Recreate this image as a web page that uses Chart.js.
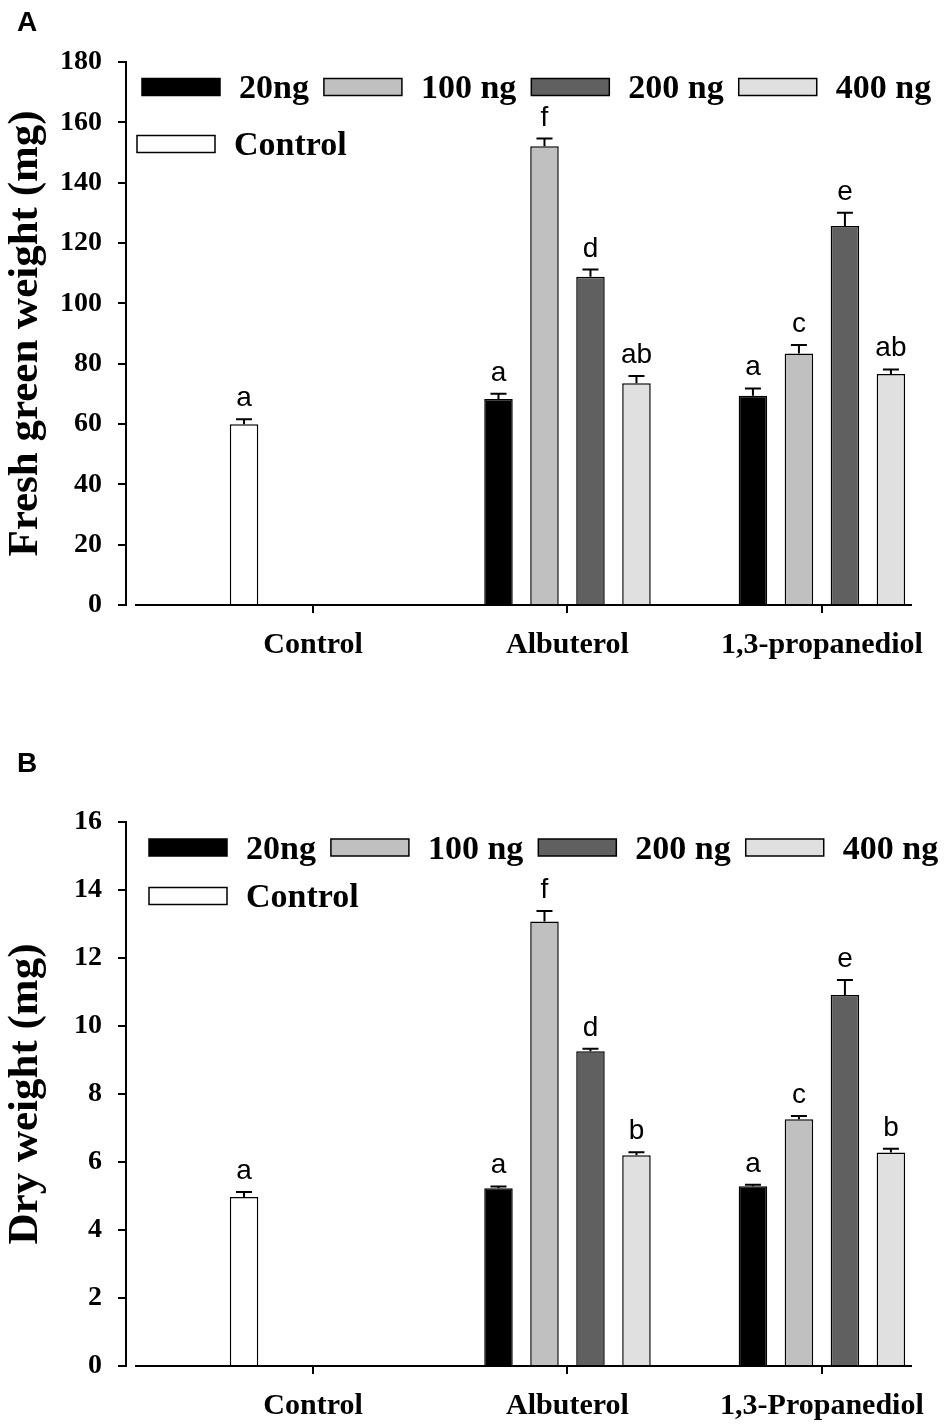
<!DOCTYPE html>
<html>
<head>
<meta charset="utf-8">
<script src="https://cdn.jsdelivr.net/npm/chart.js@4.4.1/dist/chart.umd.min.js"></script>
<style>
  html, body { margin: 0; padding: 0; background: #fff; }
  #wrap { position: relative; width: 950px; height: 1426px; }
  .panel { position: absolute; left: 0; width: 950px; height: 713px; }
  .tag { position: absolute; left: 17px; font: bold 28px 'Liberation Sans', Arial, sans-serif; line-height: 1; color: #000; }
</style>
</head>
<body>
<div id="wrap">
  <div class="panel" style="top:0"><canvas id="chartA"></canvas></div>
  <div class="panel" style="top:713px"><canvas id="chartB"></canvas></div>
  <div class="tag" style="top:8px">A</div>
  <div class="tag" style="top:749px">B</div>
</div>
<script>
// groups on the x axis
const groupsA = ['Control', 'Albuterol', '1,3-propanediol'];
const groupsB = ['Control', 'Albuterol', '1,3-Propanediol'];
const doses = ['20ng', '100 ng', '200 ng', '400 ng', 'Control'];

// A: fresh green weight (mg), one value per group
const fresh20 = [null, 68.3, 69.4];
const fresh100 = [null, 152.1, 83.4];
const fresh200 = [null, 108.8, 125.6];
const fresh400 = [null, 73.5, 76.6];
const freshCtrl = [59.9, null, null];
const freshErr20 = [null, 1.7, 2.4];
const freshErr100 = [null, 2.5, 2.8];
const freshErr200 = [null, 2.4, 4.4];
const freshErr400 = [null, 2.4, 1.5];
const freshErrCtrl = [1.7, null, null];
const freshSig20 = [null, 'a', 'a'];
const freshSig100 = [null, 'f', 'c'];
const freshSig200 = [null, 'd', 'e'];
const freshSig400 = [null, 'ab', 'ab'];
const freshSigCtrl = ['a', null, null];

// B: dry weight (mg)
const dry20 = [null, 5.23, 5.29];
const dry100 = [null, 13.07, 7.26];
const dry200 = [null, 9.26, 10.91];
const dry400 = [null, 6.20, 6.28];
const dryCtrl = [4.97, null, null];
const dryErr20 = [null, 0.05, 0.04];
const dryErr100 = [null, 0.31, 0.09];
const dryErr200 = [null, 0.07, 0.44];
const dryErr400 = [null, 0.09, 0.11];
const dryErrCtrl = [0.15, null, null];
const drySig20 = [null, 'a', 'a'];
const drySig100 = [null, 'f', 'c'];
const drySig200 = [null, 'd', 'e'];
const drySig400 = [null, 'b', 'b'];
const drySigCtrl = ['a', null, null];

const fills = ['#000000', '#c0c0c0', '#606060', '#e0e0e0', '#ffffff'];
const stacks = ['s1', 's2', 's3', 's4', 's1']; // control shares the first slot

const SERIF = "'Liberation Serif', 'Times New Roman', serif";
const SANS = "'Liberation Sans', Arial, sans-serif";

// error bars + significance letters
const errorBars = {
  id: 'errorBars',
  afterDatasetsDraw(chart) {
    const { ctx } = chart;
    const y = chart.scales.y;
    ctx.save();
    chart.data.datasets.forEach((ds, i) => {
      const meta = chart.getDatasetMeta(i);
      meta.data.forEach((bar, j) => {
        const v = ds.data[j].y;
        if (v == null) return;
        const py = y.getPixelForValue(v);
        const pe = y.getPixelForValue(v + ds.errors[j]);
        ctx.strokeStyle = '#000';
        ctx.lineWidth = 2;
        ctx.beginPath();
        ctx.moveTo(bar.x, py);
        ctx.lineTo(bar.x, pe);
        ctx.moveTo(bar.x - 8, pe);
        ctx.lineTo(bar.x + 8, pe);
        ctx.stroke();
        if (ds.letters[j]) {
          ctx.fillStyle = '#000';
          ctx.font = '28px ' + SANS;
          ctx.textAlign = 'center';
          ctx.textBaseline = 'alphabetic';
          ctx.fillText(ds.letters[j], bar.x, pe - 13);
        }
      });
    });
    ctx.restore();
  }
};

// x baseline, starts a little right of the y axis
const baseline = {
  id: 'baseline',
  afterDraw(chart) {
    const { ctx, chartArea } = chart;
    const py = chart.scales.y.getPixelForValue(0);
    ctx.save();
    ctx.strokeStyle = '#000';
    ctx.lineWidth = 2;
    ctx.beginPath();
    ctx.moveTo(chartArea.left + 9, py);
    ctx.lineTo(chartArea.right, py);
    ctx.stroke();
    ctx.restore();
  }
};

// legend drawn inside the plot, long flat swatches
const boxLegend = {
  id: 'boxLegend',
  afterDraw(chart, args, opts) {
    const { ctx } = chart;
    ctx.save();
    ctx.font = 'bold 34px ' + SERIF;
    ctx.textAlign = 'left';
    ctx.textBaseline = 'alphabetic';
    opts.rows.forEach((row) => {
      let x = row.x;
      row.items.forEach((di) => {
        const ds = chart.data.datasets[di];
        ctx.fillStyle = ds.backgroundColor;
        ctx.fillRect(x, row.y - 8.5, 78, 17);
        ctx.strokeStyle = '#000';
        ctx.lineWidth = 1.5;
        ctx.strokeRect(x, row.y - 8.5, 78, 17);
        ctx.fillStyle = '#000';
        ctx.fillText(ds.label, x + 97, row.y + 11);
        x += 97 + ctx.measureText(ds.label).width + 15;
      });
    });
    ctx.restore();
  }
};

function makeChart(id, o) {
  const datasets = o.values.map((vals, k) => ({
    label: doses[k],
    data: vals.map((v, j) => ({ x: j + 1, y: v })),
    errors: o.errors[k],
    letters: o.letters[k],
    backgroundColor: fills[k],
    borderColor: '#000',
    borderWidth: 1.5,
    stack: stacks[k],
    categoryPercentage: 0.723,
    barPercentage: 0.62
  }));

  return new Chart(document.getElementById(id), {
    type: 'bar',
    data: { datasets },
    options: {
      responsive: true,
      maintainAspectRatio: false,
      animation: false,
      layout: { padding: { top: o.padTop, right: 38, left: 0, bottom: 0 } },
      plugins: {
        legend: { display: false },
        tooltip: { enabled: false },
        boxLegend: { rows: o.legendRows }
      },
      scales: {
        x: {
          type: 'linear',
          offset: false,
          min: 0.265,
          max: 3.354,
          afterBuildTicks: (s) => { s.ticks = o.groups.map((g, i) => ({ value: i + 1 })); },
          ticks: {
            callback: (v) => o.groups[v - 1],
            color: '#000',
            font: { family: SERIF, size: 30, weight: 'bold' },
            padding: 14,
            autoSkip: false,
            maxRotation: 0
          },
          grid: { offset: false, drawOnChartArea: false, drawTicks: true, tickLength: 8, color: '#000', lineWidth: 2 },
          border: { display: false },
          afterFit: (s) => { s.height = o.xHeight; }
        },
        y: {
          min: 0,
          max: o.yMax,
          ticks: {
            stepSize: o.yStep,
            color: '#000',
            font: { family: SERIF, size: 28, weight: 'bold' },
            padding: 16
          },
          grid: { drawOnChartArea: false, drawTicks: true, tickLength: 8, color: '#000', lineWidth: 2 },
          border: { display: true, color: '#000', width: 2 },
          title: {
            display: true,
            text: o.yTitle,
            color: '#000',
            font: { family: SERIF, size: 43, weight: 'bold' },
            padding: 0
          },
          afterFit: (s) => { s.width = 126; }
        }
      }
    },
    plugins: [errorBars, baseline, boxLegend]
  });
}

makeChart('chartA', {
  groups: groupsA,
  values: [fresh20, fresh100, fresh200, fresh400, freshCtrl],
  errors: [freshErr20, freshErr100, freshErr200, freshErr400, freshErrCtrl],
  letters: [freshSig20, freshSig100, freshSig200, freshSig400, freshSigCtrl],
  yMax: 180,
  yStep: 20,
  yTitle: 'Fresh green weight (mg)',
  padTop: 62,
  xHeight: 108,
  legendRows: [{ x: 142, y: 87, items: [0, 1, 2, 3] }, { x: 137, y: 144, items: [4] }]
});

makeChart('chartB', {
  groups: groupsB,
  values: [dry20, dry100, dry200, dry400, dryCtrl],
  errors: [dryErr20, dryErr100, dryErr200, dryErr400, dryErrCtrl],
  letters: [drySig20, drySig100, drySig200, drySig400, drySigCtrl],
  yMax: 16,
  yStep: 2,
  yTitle: 'Dry weight (mg)',
  padTop: 109,
  xHeight: 60,
  legendRows: [{ x: 149, y: 134.5, items: [0, 1, 2, 3] }, { x: 149, y: 183, items: [4] }]
});
</script>
</body>
</html>
